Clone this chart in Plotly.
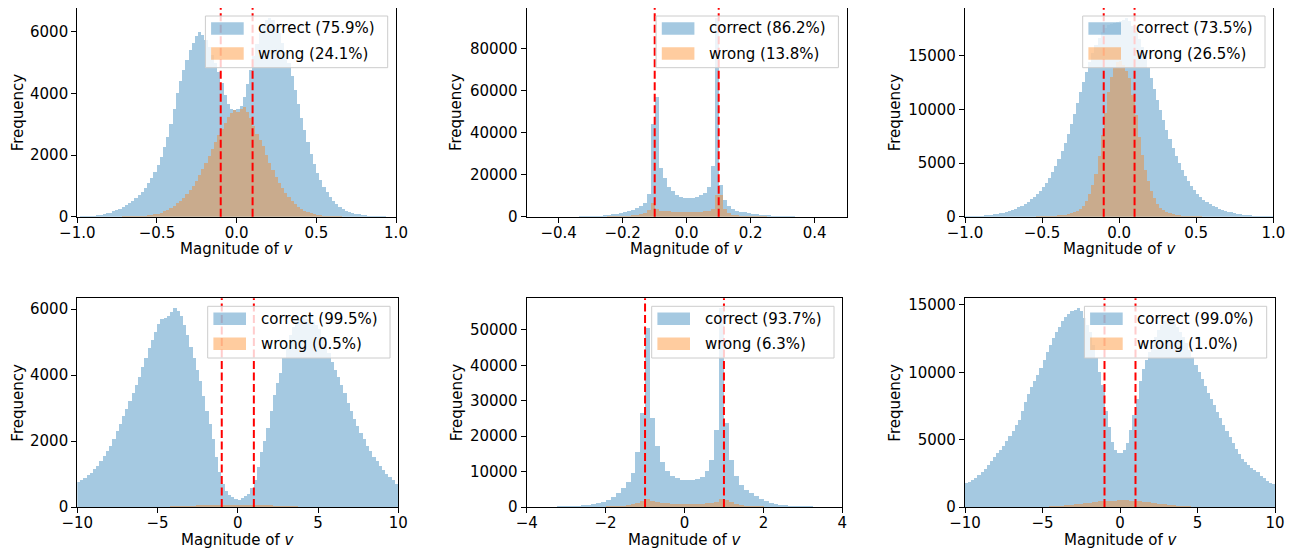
import plotly.graph_objects as go

W, H = 1295, 550

# ---------------- data (bin counts) ----------------
# panel 1 : bins of 0.02 from -1.0
p1_bin_start, p1_bin_width = -1.0, 0.02
p1_correct = [5, 8, 12, 18, 25, 33, 45, 60, 80, 105,
              135, 170, 215, 265, 320, 385, 450, 520, 600, 690,
              800, 930, 1080, 1260, 1450, 1680, 1930, 2250, 2600, 3000,
              3500, 4000, 4400, 4750, 5100, 5400, 5650, 5880, 5980, 5900,
              5750, 5500, 5250, 5000, 4700, 4350, 3950, 3650, 3500, 3450,
              3480, 3600, 3900, 4300, 4750, 5200, 5600, 5950, 6200, 6380,
              6450, 6380, 6200, 5950, 5650, 5350, 5000, 4550, 4100, 3650,
              3200, 2800, 2420, 2050, 1720, 1430, 1180, 970, 790, 640,
              510, 400, 315, 245, 190, 150, 120, 95, 75, 58,
              45, 35, 27, 20, 15, 11, 8, 6, 4, 3]
p1_wrong = [0, 0, 0, 0, 0, 0, 0, 1, 1, 2,
            2, 3, 4, 5, 7, 9, 12, 15, 19, 24,
            30, 38, 48, 60, 78, 100, 130, 170, 220, 280,
            350, 430, 520, 620, 730, 860, 1000, 1160, 1340, 1540,
            1750, 1980, 2200, 2430, 2650, 2850, 3050, 3250, 3350, 3450,
            3400, 3500, 3560, 3400, 3200, 2950, 2700, 2500, 2300, 2000,
            1750, 1500, 1300, 1100, 930, 780, 640, 520, 420, 330,
            260, 200, 155, 118, 90, 68, 50, 37, 27, 20,
            14, 10, 7, 5, 3, 2, 2, 1, 0, 0,
            0, 0, 0, 0, 0, 0, 0, 0, 0, 0]
p1_labels = ["correct (75.9%)", "wrong (24.1%)"]

# panel 2 : bins of 0.0125 from -0.5
p2_bin_start, p2_bin_width = -0.5, 0.0125
p2_correct = [3, 4, 6, 8, 10, 14, 18, 24, 32, 42,
              55, 72, 95, 125, 165, 220, 290, 380, 500, 640,
              820, 1050, 1350, 1700, 2100, 2600, 3200, 4000, 5000, 6500,
              11000, 44200, 57200, 23400, 18300, 14300, 12000, 10400, 9600, 9000,
              8800, 9000, 9400, 10200, 11500, 14000, 24000, 94600, 15000, 7800,
              4900, 3600, 2900, 2400, 2050, 1750, 1500, 1250, 1000, 800,
              630, 490, 380, 290, 220, 165, 125, 95, 72, 55,
              42, 32, 24, 18, 14, 10, 8, 6, 4, 3]
p2_wrong = [0, 0, 0, 0, 0, 0, 1, 1, 2, 3,
            4, 6, 9, 13, 18, 25, 35, 48, 65, 88,
            120, 160, 210, 280, 370, 490, 650, 900, 1250, 1800,
            3300, 6600, 3600, 2900, 2600, 2500, 2400, 2350, 2300, 2250,
            2250, 2300, 2350, 2400, 2500, 2800, 3800, 10500, 10500, 3500,
            1600, 1000, 700, 520, 400, 300, 230, 175, 130, 100,
            75, 55, 40, 30, 22, 16, 11, 8, 6, 4,
            3, 2, 1, 0, 0, 0, 0, 0, 0, 0]
p2_labels = ["correct (86.2%)", "wrong (13.8%)"]

# panel 3 : bins of 0.02 from -1.0
p3_bin_start, p3_bin_width = -1.0, 0.02
p3_correct = [40, 50, 60, 75, 90, 110, 135, 160, 190, 225,
              265, 310, 360, 420, 490, 620, 730, 870, 1020, 1200,
              1400, 1620, 1880, 2150, 2420, 2750, 3150, 3620, 4150, 4730,
              5400, 6120, 6900, 7750, 8650, 9600, 10600, 11600, 12600, 13550,
              14450, 15300, 16050, 16700, 17200, 17600, 17850, 18000, 18100, 18150,
              18250, 18350, 18550, 18300, 17800, 17300, 16600, 15800, 14900, 13900,
              12900, 11900, 10900, 9950, 9000, 8100, 7250, 6450, 5700, 5000,
              4380, 3820, 3320, 2880, 2490, 2150, 1850, 1590, 1370, 1180,
              1010, 870, 750, 640, 550, 470, 400, 340, 290, 245,
              190, 155, 125, 100, 80, 64, 52, 42, 34, 28]
p3_wrong = [0, 0, 0, 0, 0, 0, 0, 0, 0, 0,
            1, 1, 1, 2, 2, 3, 4, 5, 6, 8,
            10, 13, 17, 22, 28,
            36, 46, 58, 74, 94, 120, 150, 190, 240, 310,
            400, 530, 720, 1000, 1450, 2100, 2950, 4000, 5700, 7600,
            9700, 11600, 13000, 13900, 14400,
            14500, 14200, 13600, 12900, 11400, 9500, 7400, 5800, 4400, 3300,
            2400, 1700, 1200, 830, 580, 410, 300, 220, 165, 125,
            95, 74, 57, 44, 34, 26, 20, 15, 11, 8,
            6, 4, 3, 2, 2, 1, 1,
            0, 0, 0, 0, 0, 0, 0, 0, 0, 0, 0, 0, 0]
p3_labels = ["correct (73.5%)", "wrong (26.5%)"]

# panel 4 : bins of 0.2 from -10
p4_bin_start, p4_bin_width = -10.0, 0.2
p4_correct = [750, 820, 880, 950, 1030, 1130, 1250, 1400, 1550, 1700,
              1850, 2050, 2300, 2500, 2750, 2950, 3200, 3450, 3700, 3950,
              4250, 4500, 4800, 5050, 5300, 5550, 5700, 5720, 5800, 5900,
              6030, 5950, 5800, 5500, 5200, 4850, 4500, 4150, 3800, 3350,
              2900, 2500, 2050, 1500, 1050, 680, 470, 340, 280, 230,
              200, 250, 310, 400, 560, 820, 1200, 1650, 2000, 2400,
              2900, 3400, 3750, 4050, 4500, 4900, 5200, 5450, 5600, 5700,
              5750, 5700, 5650, 5600, 5500, 5380, 5150, 4950, 4650, 4400,
              4150, 3950, 3700, 3450, 3150, 2900, 2650, 2450, 2250, 2050,
              1850, 1700, 1520, 1380, 1250, 1120, 1000, 900, 800, 700]
p4_wrong = [0, 0, 0, 0, 0, 0, 0, 0, 0, 0,
            0, 0, 0, 0, 0, 0, 0, 0, 0, 0,
            0, 0, 0, 0, 0, 1, 2, 4, 5, 8,
            11, 14, 18, 22, 26, 31, 35, 40, 43, 47,
            50, 52, 54, 55, 56, 56, 56, 56, 55, 54,
            54, 55, 56, 56, 56, 55, 53, 50, 47, 44,
            40, 35, 30, 25, 20, 16, 13, 10, 7, 5,
            4, 2, 1, 1, 0, 0, 0, 0, 0, 0,
            0, 0, 0, 0, 0, 0, 0, 0, 0, 0,
            0, 0, 0, 0, 0, 0, 0, 0, 0, 0]
p4_labels = ["correct (99.5%)", "wrong (0.5%)"]

# panel 5 : bins of 0.125 from -4
p5_bin_start, p5_bin_width = -4.0, 0.125
p5_correct = [7, 10, 14, 20, 30, 42, 60, 85, 125, 180,
              260, 370, 530, 750, 1050, 1450, 2000, 2800, 3900, 5300,
              7000, 9500, 15500, 26500, 50500, 25000, 17000, 12500, 10000, 8800,
              8000, 7600, 7400, 7500, 7700, 8300, 10000, 13300, 21700, 56100,
              23600, 13300, 8600, 6200, 4800, 3800, 2900, 2200, 1600, 1150,
              820, 580, 410, 290, 200, 140, 100, 70, 50, 35,
              25, 17, 12, 8]
p5_wrong = [0, 0, 0, 0, 0, 0, 0, 0, 1, 2,
            3, 5, 8, 12, 20, 35, 60, 100, 170, 280,
            450, 700, 1100, 1700, 2100, 1600, 1250, 1050, 950, 880,
            840, 820, 810, 820, 840, 880, 950, 1100, 1400, 2100,
            1900, 1200, 700, 430, 270, 170, 105, 65, 40, 25,
            15, 9, 5, 3, 2, 1, 0, 0, 0, 0,
            0, 0, 0, 0]
p5_labels = ["correct (93.7%)", "wrong (6.3%)"]

# panel 6 : bins of 0.2 from -10
p6_bin_start, p6_bin_width = -10.0, 0.2
p6_correct = [1750, 1850, 1980, 2150, 2350, 2580, 2830, 3100, 3400, 3700,
              4000, 4200, 4500, 4850, 5250, 5650, 6050, 6450, 7100, 7750,
              8350, 8850, 9300, 9800, 10300, 10900, 11500, 12000, 12500, 12950,
              13350, 13750, 14100, 14300, 14500, 14600, 14750, 14500, 14000, 13500,
              13000, 12000, 11000, 10000, 9000, 7100, 5900, 4800, 4200, 3950,
              4000, 4200, 4700, 5700, 6800, 8000, 9300, 10200, 10900, 11500,
              12000, 12600, 13100, 13500, 13800, 13900, 13800, 13550, 13300, 13000,
              12600, 12150, 11650, 11100, 10550, 10000, 9450, 8950, 8450, 8000,
              7550, 7050, 6600, 6100, 5600, 5150, 4750, 4300, 3900, 3550,
              3300, 3100, 2900, 2750, 2550, 2300, 2100, 1900, 1750, 1650]
p6_wrong = [0, 0, 0, 0, 0, 0, 0, 0, 0, 0,
            0, 0, 0, 0, 0, 0, 0, 0, 0, 0,
            0, 0, 0, 0, 0, 5, 10, 18, 28, 40,
            55, 72, 92, 115, 140, 165, 190, 220, 250, 280,
            310, 340, 365, 390, 410, 430, 445, 455, 460, 465,
            470, 475, 470, 460, 445, 425, 400, 375, 345, 315,
            285, 255, 225, 195, 165, 138, 112, 90, 70, 53,
            40, 29, 20, 13, 8, 5, 3, 2, 1, 0,
            0, 0, 0, 0, 0, 0, 0, 0, 0, 0,
            0, 0, 0, 0, 0, 0, 0, 0, 0, 0]
p6_labels = ["correct (99.0%)", "wrong (1.0%)"]

# axis ticks / thresholds
p1_xticks = [-1.0, -0.5, 0.0, 0.5, 1.0]
p2_xticks = [-0.4, -0.2, 0.0, 0.2, 0.4]
p4_xticks = [-10, -5, 0, 5, 10]
p5_xticks = [-4, -2, 0, 2, 4]
p1_yticks = [0, 2000, 4000, 6000]
p2_yticks = [0, 20000, 40000, 60000, 80000]
p3_yticks = [0, 5000, 10000, 15000]
p4_yticks = [0, 2000, 4000, 6000]
p5_yticks = [0, 10000, 20000, 30000, 40000, 50000]
p6_yticks = [0, 5000, 10000, 15000]
top_threshold = 0.1
bottom_threshold = 1.0
x_title = "Magnitude of <i>v</i>"
y_title = "Frequency"

# ---------------- layout helpers ----------------
BLUE = "rgba(31,119,180,0.4)"
ORANGE = "rgba(255,127,14,0.4)"
FONT = "DejaVu Sans"
FS = 15
OFF = 8  # page offset of the figure inside the browser window


def fx(v):
    return min(max((v - OFF) / W, 0.0), 1.0)


def fy(v):
    return min(max(1 - (v - OFF) / H, 0.0), 1.0)


# axes boxes in window pixels: left, right, top, bottom ; y-title centre x
boxes = [
    (77.3, 396.0, 8.0, 216.7, 18.0),
    (526.7, 846.7, 8.0, 216.7, 456.7),
    (965.0, 1273.3, 8.0, 216.7, 895.0),
    (77.3, 398.3, 298.3, 507.0, 18.0),
    (526.7, 842.3, 298.3, 507.0, 456.7),
    (965.0, 1275.0, 298.3, 507.0, 895.0),
]

panels = [
    dict(c=p1_correct, w=p1_wrong, s=p1_bin_start, bw=p1_bin_width, lab=p1_labels,
         xr=[-1, 1], xt=p1_xticks, xf=".1f", yt=p1_yticks, thr=top_threshold),
    dict(c=p2_correct, w=p2_wrong, s=p2_bin_start, bw=p2_bin_width, lab=p2_labels,
         xr=[-0.5, 0.5], xt=p2_xticks, xf=".1f", yt=p2_yticks, thr=top_threshold),
    dict(c=p3_correct, w=p3_wrong, s=p3_bin_start, bw=p3_bin_width, lab=p3_labels,
         xr=[-1, 1], xt=p1_xticks, xf=".1f", yt=p3_yticks, thr=top_threshold),
    dict(c=p4_correct, w=p4_wrong, s=p4_bin_start, bw=p4_bin_width, lab=p4_labels,
         xr=[-10, 10], xt=p4_xticks, xf="d", yt=p4_yticks, thr=bottom_threshold),
    dict(c=p5_correct, w=p5_wrong, s=p5_bin_start, bw=p5_bin_width, lab=p5_labels,
         xr=[-4, 4], xt=p5_xticks, xf="d", yt=p5_yticks, thr=bottom_threshold),
    dict(c=p6_correct, w=p6_wrong, s=p6_bin_start, bw=p6_bin_width, lab=p6_labels,
         xr=[-10, 10], xt=p4_xticks, xf="d", yt=p6_yticks, thr=bottom_threshold),
]

for p in panels:
    assert len(p["c"]) == len(p["w"]), (len(p["c"]), len(p["w"]))

fig = go.Figure()
layout = dict(
    width=W, height=H, margin=dict(l=0, r=0, t=0, b=0, autoexpand=False),
    paper_bgcolor="white", plot_bgcolor="white",
    barmode="overlay", bargap=0, showlegend=False,
    font=dict(family=FONT, size=FS, color="black"),
)
shapes = []
annotations = []

for i, (p, b) in enumerate(zip(panels, boxes)):
    n = i + 1
    L, R, T, B, ytx = b
    xa = "x" if n == 1 else f"x{n}"
    ya = "y" if n == 1 else f"y{n}"
    centers = [p["s"] + p["bw"] * (k + 0.5) for k in range(len(p["c"]))]
    for vals, col, name in ((p["c"], BLUE, p["lab"][0]), (p["w"], ORANGE, p["lab"][1])):
        fig.add_trace(go.Bar(x=centers, y=vals, width=p["bw"], name=name,
                             marker=dict(color=col, line=dict(width=0)),
                             xaxis=xa, yaxis=ya, hoverinfo="skip"))
    ymax = max(max(p["c"]), max(p["w"])) * 1.05
    axstyle = dict(showline=True, mirror=True, linecolor="black", linewidth=1.2,
                   ticks="outside", ticklen=5, tickwidth=1.2, tickcolor="black",
                   showgrid=False, zeroline=False, automargin=False,
                   tickfont=dict(family=FONT, size=FS, color="black"))
    layout["xaxis" if n == 1 else f"xaxis{n}"] = dict(
        domain=[fx(L), fx(R)], anchor=ya, range=p["xr"], tickvals=p["xt"],
        tickformat=p["xf"], ticklabelstandoff=-3, **axstyle)
    layout["yaxis" if n == 1 else f"yaxis{n}"] = dict(
        domain=[fy(B), fy(T)], anchor=xa, range=[0, ymax], tickvals=p["yt"],
        tickformat="d", **axstyle)

    # axis titles
    annotations.append(dict(text=x_title, xref="paper", yref="paper",
                            x=fx((L + R) / 2), y=fy(B + 32.5), xanchor="center", yanchor="middle",
                            showarrow=False, font=dict(family=FONT, size=FS, color="black")))
    annotations.append(dict(text=y_title, xref="paper", yref="paper", textangle=-90,
                            x=fx(ytx), y=fy((T + B) / 2), xanchor="center", yanchor="middle",
                            showarrow=False, font=dict(family=FONT, size=FS, color="black")))

    # threshold lines
    yref = ("y" if n == 1 else f"y{n}") + " domain"
    for t in (-p["thr"], p["thr"]):
        shapes.append(dict(type="line", xref=xa, yref=yref, x0=t, x1=t, y0=0, y1=1,
                           line=dict(color="red", width=2, dash="8px,3.5px"), layer="above"))

    # legend box (upper right)
    right_px = R - 8.3
    left_px = right_px - 182.3
    top_px = T + 8.0
    bot_px = top_px + 51.7
    shapes.append(dict(type="rect", xref="paper", yref="paper",
                       x0=fx(left_px), x1=fx(right_px), y0=fy(bot_px), y1=fy(top_px),
                       fillcolor="rgba(255,255,255,0.8)", line=dict(color="#cccccc", width=1),
                       layer="above"))
    rows = [top_px + 12.5, top_px + 37.5]
    for r, col, lab in zip(rows, (BLUE, ORANGE), p["lab"]):
        shapes.append(dict(type="rect", xref="paper", yref="paper",
                           x0=fx(left_px + 5.7), x1=fx(left_px + 38.3),
                           y0=fy(r + 6.3), y1=fy(r - 6.3),
                           fillcolor=col, line=dict(width=0), layer="above"))
        annotations.append(dict(text=lab, xref="paper", yref="paper",
                                x=fx(left_px + 51.0), y=fy(r), xanchor="left", yanchor="middle",
                                showarrow=False, font=dict(family=FONT, size=FS, color="black")))

layout["shapes"] = shapes
layout["annotations"] = annotations
fig.update_layout(**layout)
fig.write_html("out.html")
